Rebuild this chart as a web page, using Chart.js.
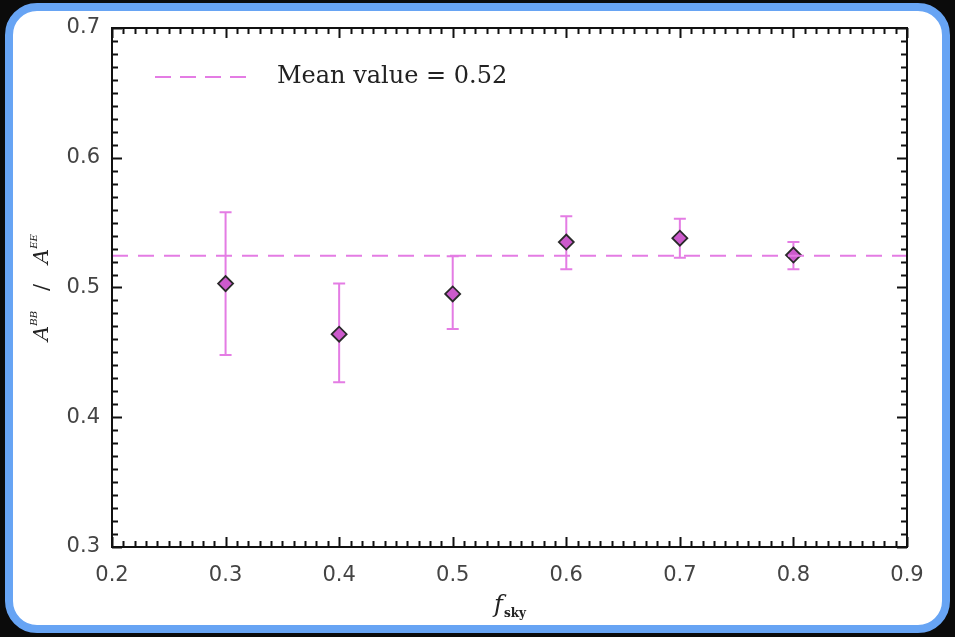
<!DOCTYPE html>
<html>
<head>
<meta charset="utf-8">
<script src="https://cdn.jsdelivr.net/npm/chart.js@4"></script>
<style>
  body { margin: 0; background: #0b0b0b; width: 955px; height: 637px; overflow: hidden; }
  #frame {
    position: absolute; left: 5px; top: 3px; width: 945px; height: 630px;
    box-sizing: border-box; border: 8px solid #67a4f4; border-radius: 32px; background: #fff;
  }
  #chartBox { position: absolute; left: 0; top: 0; width: 955px; height: 637px; }
</style>
</head>
<body>
<div id="frame"></div>
<div id="chartBox"><canvas id="ratioChart" width="955" height="637"></canvas></div>
<script>
// sky fractions and measured A_BB / A_EE ratio
const fsky = [0.3, 0.4, 0.5, 0.6, 0.7, 0.8];
const ratio = [0.503, 0.464, 0.495, 0.535, 0.538, 0.525];
const errTop = [0.558, 0.503, 0.524, 0.555, 0.553, 0.535];
const errBottom = [0.448, 0.427, 0.468, 0.514, 0.523, 0.514];
const meanValue = 0.5245;
const meanLabel = "Mean value = 0.52";
const xRange = [0.2, 0.9];
const yRange = [0.3, 0.7];

const pink = "#e47ce4";

const points = fsky.map((x, i) => ({ x: x, y: ratio[i] }));
const meanLine = xRange.map(x => ({ x: x, y: meanValue }));

// vertical error bars with caps
const errorBars = {
    id: "errorBars",
    beforeDatasetsDraw(chart) {
        const ctx = chart.ctx;
        const xs = chart.scales.x, ys = chart.scales.y;
        ctx.save();
        ctx.strokeStyle = pink;
        ctx.lineWidth = 2;
        fsky.forEach((f, i) => {
            const px = xs.getPixelForValue(f);
            const top = ys.getPixelForValue(errTop[i]);
            const bot = ys.getPixelForValue(errBottom[i]);
            ctx.beginPath();
            ctx.moveTo(px, top); ctx.lineTo(px, bot);
            ctx.moveTo(px - 6, top); ctx.lineTo(px + 6, top);
            ctx.moveTo(px - 6, bot); ctx.lineTo(px + 6, bot);
            ctx.stroke();
        });
        ctx.restore();
    }
};

// box, inward ticks on four sides, legend and axis titles
const frameAndText = {
    id: "frameAndText",
    afterDraw(chart) {
        const ctx = chart.ctx;
        const a = chart.chartArea;
        const xs = chart.scales.x, ys = chart.scales.y;
        ctx.save();
        ctx.strokeStyle = "#111";
        ctx.lineWidth = 2;
        ctx.strokeRect(a.left, a.top, a.right - a.left, a.bottom - a.top);

        ctx.lineWidth = 2;
        ctx.beginPath();
        for (let i = 0; i <= 70; i++) {
            const v = xRange[0] + i * 0.01;
            const px = Math.round(xs.getPixelForValue(v)) + 0.5;
            const len = i % 10 === 0 ? 10 : 6;
            ctx.moveTo(px, a.bottom); ctx.lineTo(px, a.bottom - len);
            ctx.moveTo(px, a.top); ctx.lineTo(px, a.top + len);
        }
        for (let i = 0; i <= 40; i++) {
            const v = yRange[0] + i * 0.01;
            const py = Math.round(ys.getPixelForValue(v)) + 0.5;
            const len = i % 10 === 0 ? 10 : 6;
            ctx.moveTo(a.left, py); ctx.lineTo(a.left + len, py);
            ctx.moveTo(a.right, py); ctx.lineTo(a.right - len, py);
        }
        ctx.stroke();

        // legend
        ctx.strokeStyle = pink;
        ctx.lineWidth = 2;
        ctx.setLineDash([16, 9]);
        ctx.beginPath();
        ctx.moveTo(a.left + 43, a.top + 49);
        ctx.lineTo(a.left + 140, a.top + 49);
        ctx.stroke();
        ctx.setLineDash([]);
        ctx.fillStyle = "#222";
        ctx.font = "24px 'DejaVu Serif'";
        ctx.textBaseline = "middle";
        ctx.textAlign = "left";
        ctx.fillText(meanLabel, a.left + 165, a.top + 49);

        // x title: f_sky
        const cx = (a.left + a.right) / 2;
        ctx.font = "italic 24px 'DejaVu Serif'";
        const fw = ctx.measureText("f").width;
        ctx.font = "bold 12px 'DejaVu Serif'";
        const sw = ctx.measureText("sky").width;
        let x0 = cx - (fw + sw) / 2;
        ctx.textBaseline = "alphabetic";
        ctx.font = "italic 24px 'DejaVu Serif'";
        ctx.fillText("f", x0, 612);
        ctx.font = "bold 12px 'DejaVu Serif'";
        ctx.fillText("sky", x0 + fw + 1, 617);

        // y title: A^BB / A^EE (rotated)
        const cy = (a.top + a.bottom) / 2;
        const parts = [
            { t: "A", f: "italic 21px 'DejaVu Serif'", dy: 0 },
            { t: "BB", f: "italic 10px 'DejaVu Serif'", dy: -11 },
            { t: "   /   ", f: "21px 'DejaVu Serif'", dy: 0 },
            { t: "A", f: "italic 21px 'DejaVu Serif'", dy: 0 },
            { t: "EE", f: "italic 10px 'DejaVu Serif'", dy: -11 }
        ];
        let total = 0;
        parts.forEach(p => { ctx.font = p.f; p.w = ctx.measureText(p.t).width; total += p.w; });
        ctx.translate(48, cy);
        ctx.rotate(-Math.PI / 2);
        let pos = -total / 2;
        parts.forEach(p => {
            ctx.font = p.f;
            ctx.fillText(p.t, pos, p.dy);
            pos += p.w;
        });
        ctx.restore();
    }
};

new Chart(
    document.getElementById("ratioChart"),
    {
        type: "scatter",

        data: {
            datasets: [
                {
                    label: meanLabel,
                    type: "line",
                    data: meanLine,
                    borderColor: pink,
                    borderWidth: 2,
                    borderDash: [16, 10],
                    pointRadius: 0,
                    fill: false
                },
                {
                    label: "A_BB / A_EE",
                    data: points,
                    pointStyle: "rectRot",
                    pointRadius: 7.5,
                    backgroundColor: "#cc5acc",
                    borderColor: "#2a2a2a",
                    borderWidth: 1.8
                }
            ]
        },

        options: {
            responsive: false,
            animation: false,
            devicePixelRatio: 1,
            layout: { padding: { left: 0, top: 28, right: 48, bottom: 0 } },
            plugins: {
                legend: { display: false },
                tooltip: { enabled: false }
            },
            scales: {
                x: {
                    type: "linear",
                    min: xRange[0],
                    max: xRange[1],
                    grid: { display: false, drawTicks: false },
                    border: { display: false },
                    afterFit: s => { s.height = 90; },
                    ticks: {
                        stepSize: 0.1,
                        padding: 16,
                        color: "#444",
                        font: { family: "DejaVu Sans", size: 21 },
                        callback: v => v.toFixed(1)
                    }
                },
                y: {
                    min: yRange[0],
                    max: yRange[1],
                    grid: { display: false, drawTicks: false },
                    border: { display: false },
                    afterFit: s => { s.width = 112; },
                    ticks: {
                        stepSize: 0.1,
                        padding: 12,
                        color: "#444",
                        font: { family: "DejaVu Sans", size: 21 },
                        callback: v => v.toFixed(1)
                    }
                }
            }
        },

        plugins: [errorBars, frameAndText]
    }
);
</script>
</body>
</html>
